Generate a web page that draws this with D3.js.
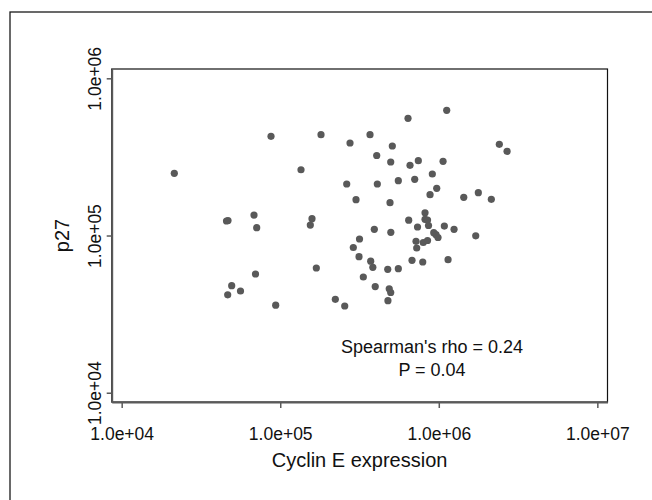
<html>
<head>
    <style>
        body {
          margin: 0;
          background: white;
          font-family: "Liberation Sans", Arial, sans-serif;
        }
    </style>
    <script src="https://d3js.org/d3.v7.min.js"></script>
</head>
<body>
    <svg id="Scatter"></svg>
</body>
<script>
  // Cyclin E expression (x) and p27 (y), one entry per sample
  let cyclinE = [
    21470, 87460, 180800, 275500, 368400, 406000, 135200, 262600, 409600, 300600,
    45830, 46830, 71050, 68310, 158600, 154800, 392100, 316200, 289000, 1122000,
    639700, 509200, 2409000, 2695000, 497500, 658500, 742900, 1064000, 910400, 555600,
    705000, 970500, 880600, 1437000, 1776000, 2145000, 492500, 818900, 818900, 849200,
    646100, 734300, 861600, 1084000, 1248000, 498300, 929300, 960700, 989000, 1710000,
    718400, 797900, 849200, 725700, 314000, 372100, 383700, 476400, 555600, 677900,
    792100, 1144000, 334200, 397300, 486900, 497500, 477800, 168900, 69820, 49410,
    56150, 46630, 93630, 222600, 255100
  ];
  let p27 = [
    248700, 427600, 437700, 387600, 437700, 322800, 262100, 212600, 212600, 169000,
    123700, 124600, 112100, 135000, 127900, 116600, 109500, 95000, 83890, 625700,
    556500, 370900, 380300, 343200, 293500, 279700, 299100, 296500, 246200, 223200,
    227800, 199700, 181800, 175000, 187300, 170000, 161700, 139600, 126800, 125500,
    125200, 113300, 115800, 114900, 109500, 104800, 104200, 101200, 97120, 99560,
    91860, 90260, 92940, 83270, 73310, 68630, 62770, 60950, 61490, 69540,
    67830, 70160, 54450, 47370, 45810, 43400, 38480, 62130, 56900, 47940,
    44360, 41960, 36030, 39280, 35610
  ];

  let xExtent = [8650, 1.159e7];
  let yExtent = [8730, 1.146e6];
  let xTicks = [1e4, 1e5, 1e6, 1e7];
  let yTicks = [1e4, 1e5, 1e6];
  let xTitle = "Cyclin E expression";
  let yTitle = "p27";
  let statLines = ["Spearman's rho = 0.24", "P = 0.04"];

  function formatTick(v) {
    // R style scientific label, e.g. 1.0e+05
    let e = Math.round(Math.log10(v));
    return "1.0e+" + (e < 10 ? "0" + e : e);
  }

  function getConfig() {
    let width = 652;
    let height = 500;
    let box = { left: 111.7, right: 607.5, top: 69, bottom: 402 };
    let container = d3.select("#Scatter")
      .attr("width", width)
      .attr("height", height);
    return { width, height, box, container };
  }

  function getScales(config) {
    let { box } = config;
    let xScale = d3.scaleLog().domain(xExtent).range([box.left, box.right]);
    let yScale = d3.scaleLog().domain(yExtent).range([box.bottom, box.top]);
    return { xScale, yScale };
  }

  function drawFrame(config) {
    let { container, box } = config;
    // outer figure frame, only top and left edges show
    container.append("rect")
      .attr("x", 10).attr("y", 12)
      .attr("width", 700).attr("height", 600)
      .attr("fill", "none")
      .attr("stroke", "#1a1a1a")
      .attr("stroke-width", 1.3);

    container.append("rect")
      .attr("x", box.left).attr("y", box.top)
      .attr("width", box.right - box.left)
      .attr("height", box.bottom - box.top)
      .attr("fill", "none")
      .attr("stroke", "#111")
      .attr("stroke-width", 1.2);
  }

  function drawAxes(scales, config) {
    let { xScale, yScale } = scales;
    let { container, box } = config;

    let axisX = d3.axisBottom(xScale)
      .tickValues(xTicks)
      .tickFormat(formatTick)
      .tickSize(6)
      .tickSizeOuter(0);

    let gx = container.append("g")
      .attr("transform", `translate(0,${box.bottom})`)
      .call(axisX);
    gx.select(".domain").attr("stroke", "#5a5a5a").attr("stroke-width", 2);
    gx.selectAll(".tick line").attr("stroke", "#5a5a5a").attr("stroke-width", 1.5);
    gx.selectAll(".tick text")
      .attr("y", 38).attr("dy", 0)
      .attr("fill", "#111")
      .style("font-size", "17.5px")
      .style("font-family", "'Liberation Sans', Arial, sans-serif");

    let axisY = d3.axisLeft(yScale)
      .tickValues(yTicks)
      .tickFormat(formatTick)
      .tickSize(5)
      .tickSizeOuter(0);

    let gy = container.append("g")
      .attr("transform", `translate(${box.left},0)`)
      .call(axisY);
    gy.select(".domain").attr("stroke", "#5a5a5a").attr("stroke-width", 2);
    gy.selectAll(".tick line").attr("stroke", "#5a5a5a").attr("stroke-width", 1.5);
    gy.selectAll(".tick text")
      .attr("transform", "rotate(-90)")
      .attr("x", 0).attr("y", -10.7).attr("dy", 0)
      .attr("text-anchor", "middle")
      .attr("fill", "#111")
      .style("font-size", "17.5px")
      .style("font-family", "'Liberation Sans', Arial, sans-serif");

    container.append("text")
      .attr("x", (box.left + box.right) / 2)
      .attr("y", 467)
      .attr("text-anchor", "middle")
      .attr("fill", "#111")
      .style("font-size", "20px")
      .text(xTitle);

    container.append("text")
      .attr("transform", `translate(69,${(box.top + box.bottom) / 2}) rotate(-90)`)
      .attr("text-anchor", "middle")
      .attr("fill", "#111")
      .style("font-size", "20px")
      .text(yTitle);
  }

  function drawPoints(scales, config) {
    let { xScale, yScale } = scales;
    let points = cyclinE.map((x, i) => ({ x: x, y: p27[i] }));
    config.container.append("g")
      .selectAll("circle")
      .data(points)
      .enter()
      .append("circle")
      .attr("cx", d => xScale(d.x))
      .attr("cy", d => yScale(d.y))
      .attr("r", 3.6)
      .attr("fill", "#595959");
  }

  function drawStats(config) {
    config.container.append("g")
      .selectAll("text")
      .data(statLines)
      .enter()
      .append("text")
      .attr("x", 432)
      .attr("y", (d, i) => 352.7 + i * 23)
      .attr("text-anchor", "middle")
      .attr("fill", "#111")
      .style("font-size", "18px")
      .text(d => d);
  }

  let config = getConfig();
  let scales = getScales(config);
  drawFrame(config);
  drawPoints(scales, config);
  drawAxes(scales, config);
  drawStats(config);
</script>
</html>
